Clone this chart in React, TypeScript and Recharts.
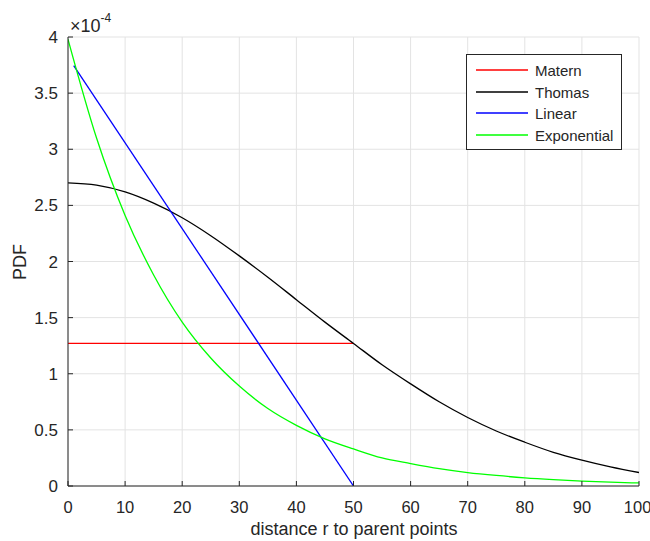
import React from "react";
import { LineChart, Line, XAxis, YAxis, CartesianGrid } from "recharts";

// distance r (sample points for the smooth curves)
const distance = [0, 5, 10, 15, 20, 25, 30, 35, 40, 45, 50, 55, 60, 65, 70, 75, 80, 85, 90, 95, 100];
// PDF values, in units of 1e-4
const thomas = [2.7, 2.68, 2.62, 2.52, 2.39, 2.23, 2.05, 1.86, 1.66, 1.46, 1.27, 1.08, 0.91, 0.75, 0.61, 0.49, 0.39, 0.3, 0.23, 0.17, 0.12];
const exponential = [3.98, 3.1, 2.41, 1.88, 1.46, 1.14, 0.89, 0.69, 0.54, 0.42, 0.33, 0.25, 0.2, 0.155, 0.12, 0.094, 0.073, 0.057, 0.044, 0.034, 0.027];
const maternR = [0, 50];
const maternPdf = [1.27, 1.27];
const linearR = [1, 50];
const linearPdf = [3.745, 0];

const xTicks = [0, 10, 20, 30, 40, 50, 60, 70, 80, 90, 100];
const yTicks = [0, 0.5, 1, 1.5, 2, 2.5, 3, 3.5, 4];

const seriesNames = ["Matern", "Thomas", "Linear", "Exponential"];
const seriesColors = ["#ff0000", "#000000", "#0000ff", "#00ff00"];

const toPoints = (xs: number[], ys: number[]) => xs.map((r, i) => ({ r, pdf: ys[i] }));

const textColor = "#262626";
const font = "'Liberation Sans', Arial, sans-serif";

export default function App() {
  const maternData = toPoints(maternR, maternPdf);
  const thomasData = toPoints(distance, thomas);
  const linearData = toPoints(linearR, linearPdf);
  const expData = toPoints(distance, exponential);
  const lineData = [maternData, thomasData, linearData, expData];

  return (
    <div
      style={{
        position: "absolute",
        left: 0,
        top: 0,
        width: 650,
        height: 541,
        overflow: "hidden",
        background: "#fff",
        fontFamily: font,
      }}
    >
      <LineChart width={650} height={541} margin={{ top: 37, right: 11, bottom: 25, left: 28 }}>
        <CartesianGrid stroke="#e3e3e3" />
        <XAxis
          dataKey="r"
          type="number"
          domain={[0, 100]}
          ticks={xTicks}
          allowDataOverflow
          height={30}
          stroke={textColor}
          tickSize={-5}
          tickMargin={20}
          tick={{ fill: textColor, fontSize: 16.5, fontFamily: font }}
        />
        <YAxis
          dataKey="pdf"
          type="number"
          domain={[0, 4]}
          ticks={yTicks}
          allowDataOverflow
          width={40}
          stroke={textColor}
          tickSize={-5}
          tickMargin={15}
          tickFormatter={(v: number) => String(v)}
          tick={{ fill: textColor, fontSize: 17, fontFamily: font }}
        />
        {lineData.map((d, i) => (
          <Line
            key={seriesNames[i]}
            data={d}
            dataKey="pdf"
            type={i === 1 || i === 3 ? "monotone" : "linear"}
            stroke={seriesColors[i]}
            strokeWidth={1.3}
            dot={false}
            isAnimationActive={false}
          />
        ))}
      </LineChart>

      {/* exponent label */}
      <div style={{ position: "absolute", left: 70, top: 16, color: textColor, fontSize: 18, whiteSpace: "nowrap" }}>
        ×10<sup style={{ fontSize: 12, verticalAlign: "top", position: "relative", top: -5 }}>-4</sup>
      </div>

      {/* y axis label */}
      <div
        style={{
          position: "absolute",
          left: 20,
          top: 262,
          transform: "translate(-50%, -50%) rotate(-90deg)",
          color: textColor,
          fontSize: 18,
        }}
      >
        PDF
      </div>

      {/* x axis label */}
      <div
        style={{
          position: "absolute",
          left: 354,
          top: 519,
          transform: "translateX(-50%)",
          color: textColor,
          fontSize: 18,
          lineHeight: "20px",
          whiteSpace: "nowrap",
        }}
      >
        distance r to parent points
      </div>

      {/* legend */}
      <div
        style={{
          position: "absolute",
          left: 466,
          top: 54,
          width: 154,
          height: 94,
          border: "1px solid #262626",
          background: "#fff",
        }}
      >
        {seriesNames.map((name, i) => (
          <div
            key={name}
            style={{
              position: "absolute",
              left: 9,
              top: [6, 28, 49, 71][i],
              height: 18,
              display: "flex",
              alignItems: "center",
              whiteSpace: "nowrap",
            }}
          >
            <svg width={52} height={4} style={{ display: "block" }}>
              <line x1={0} x2={52} y1={2} y2={2} stroke={seriesColors[i]} strokeWidth={1.5} />
            </svg>
            <span style={{ marginLeft: 7, fontSize: 15, color: textColor }}>{name}</span>
          </div>
        ))}
      </div>
    </div>
  );
}
